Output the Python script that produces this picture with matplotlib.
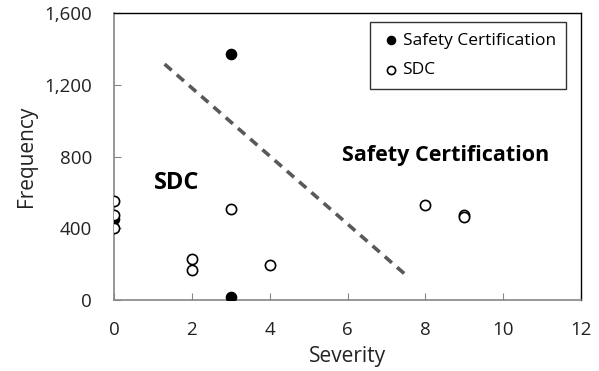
import matplotlib.pyplot as plt
import matplotlib as mpl
from matplotlib.ticker import FuncFormatter

mpl.rcParams['font.family'] = ['Open Sans', 'DejaVu Sans']

# data
cert_x = [3, 3, 0]
cert_y = [1370, 15, 450]
sdc_x = [0, 0, 0, 2, 2, 3, 4, 8, 9, 9]
sdc_y = [550, 475, 400, 230, 170, 505, 195, 530, 475, 462]
split_x = [1.3, 7.55]
split_y = [1315, 130]

fig = plt.figure(figsize=(5.99, 3.71), dpi=100)
ax = fig.add_axes([114 / 599, 71 / 371, 467 / 599, 287 / 371])

ax.plot(split_x, split_y, ls=(0, (2.6, 1.9)), color='#595959', lw=2.6, zorder=2)
ax.scatter(cert_x, cert_y, s=54, color='black', zorder=3, label='Safety Certification')
ax.scatter(sdc_x, sdc_y, s=54, facecolor='white', edgecolor='black', linewidth=1.2,
           zorder=4, label='SDC')

ax.text(1.62, 655, 'SDC', fontsize=17, fontweight='bold', ha='center', va='center')
ax.text(8.52, 805, 'Safety Certification', fontsize=15.5, fontweight='bold',
        ha='center', va='center')

ax.set_xlim(0, 12)
ax.set_ylim(0, 1600)
ax.set_xticks(range(0, 13, 2))
ax.set_yticks(range(0, 1601, 400))
ax.yaxis.set_major_formatter(FuncFormatter(lambda v, p: f'{int(v):,}'))
ax.tick_params(direction='in', length=5, color='#868686', labelsize=13.5,
               labelcolor='#222222')
ax.tick_params(axis='x', pad=15)
ax.tick_params(axis='y', pad=16)
for s in ['left', 'bottom']:
    ax.spines[s].set_color('#868686')
    ax.spines[s].set_linewidth(1.2)
for s in ['top', 'right']:
    ax.spines[s].set_color('black')
    ax.spines[s].set_linewidth(1.0)
ax.set_xlabel('Severity', fontsize=15, labelpad=5, color='#222222')
ax.set_ylabel('Frequency', fontsize=15, labelpad=5, color='#222222')

leg = ax.legend(loc='upper right', bbox_to_anchor=(0.968, 0.967), fontsize=12.5,
                frameon=True, fancybox=False, edgecolor='black', handletextpad=0.05,
                borderpad=0.6, labelspacing=0.75, handlelength=1.2, markerscale=0.8,
                borderaxespad=0)
leg.get_frame().set_linewidth(1.0)

fig.savefig('out.png', dpi=100)
